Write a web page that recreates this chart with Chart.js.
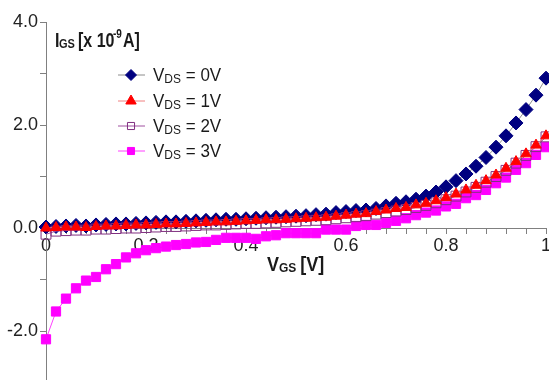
<!DOCTYPE html>
<html>
<head>
<meta charset="utf-8">
<script src="https://cdn.jsdelivr.net/npm/chart.js@4"></script>
<style>
  html, body { margin: 0; padding: 0; background: #fff; }
  #wrap { width: 549px; height: 380px; position: relative; }
</style>
</head>
<body>
<div id="wrap"><canvas id="chart"></canvas></div>
<script>
// V_GS [V]
const vgs = [0, 0.02, 0.04, 0.06, 0.08, 0.1, 0.12, 0.14, 0.16, 0.18, 0.2, 0.22, 0.24, 0.26, 0.28, 0.3, 0.32, 0.34, 0.36, 0.38, 0.4,
  0.42, 0.44, 0.46, 0.48, 0.5, 0.52, 0.54, 0.56, 0.58, 0.6, 0.62, 0.64, 0.66, 0.68, 0.7, 0.72, 0.74, 0.76, 0.78, 0.8,
  0.82, 0.84, 0.86, 0.88, 0.9, 0.92, 0.94, 0.96, 0.98, 1];

// I_GS [x 10^-9 A]
const igsVds0 = [0.02, 0.03, 0.04, 0.05, 0.04, 0.06, 0.07, 0.08, 0.08, 0.09, 0.10, 0.11, 0.12, 0.12, 0.13, 0.14, 0.15, 0.16, 0.17, 0.17, 0.18,
  0.19, 0.20, 0.21, 0.22, 0.23, 0.24, 0.26, 0.27, 0.30, 0.32, 0.34, 0.35, 0.38, 0.43, 0.48, 0.51, 0.56, 0.62, 0.70, 0.80,
  0.92, 1.05, 1.20, 1.37, 1.57, 1.79, 2.04, 2.30, 2.58, 2.91];
const igsVds1 = [0.00, 0.01, 0.02, 0.02, 0.01, 0.03, 0.04, 0.04, 0.05, 0.06, 0.06, 0.07, 0.08, 0.08, 0.09, 0.10, 0.11, 0.12, 0.12, 0.13, 0.14,
  0.15, 0.16, 0.16, 0.17, 0.18, 0.19, 0.20, 0.21, 0.23, 0.25, 0.27, 0.28, 0.32, 0.35, 0.38, 0.40, 0.45, 0.48, 0.53, 0.59,
  0.66, 0.74, 0.83, 0.92, 1.03, 1.16, 1.29, 1.44, 1.61, 1.79];
const igsVds2 = [-0.12, -0.06, -0.05, -0.04, -0.04, -0.02, -0.02, -0.01, 0.00, 0.00, 0.01, 0.02, 0.03, 0.03, 0.04, 0.05, 0.06, 0.06, 0.07, 0.08, 0.09,
  0.09, 0.10, 0.11, 0.12, 0.13, 0.14, 0.15, 0.16, 0.18, 0.20, 0.22, 0.24, 0.27, 0.30, 0.33, 0.36, 0.40, 0.44, 0.49, 0.55,
  0.62, 0.70, 0.79, 0.89, 1.00, 1.12, 1.26, 1.41, 1.58, 1.77];
const igsVds3 = [-2.16, -1.62, -1.37, -1.17, -1.02, -0.95, -0.80, -0.70, -0.57, -0.49, -0.43, -0.39, -0.36, -0.33, -0.31, -0.28, -0.27, -0.23, -0.19, -0.19, -0.19,
  -0.21, -0.16, -0.14, -0.10, -0.10, -0.10, -0.10, -0.03, -0.03, -0.03, 0.04, 0.06, 0.06, 0.10, 0.14, 0.19, 0.25, 0.30, 0.34, 0.42,
  0.47, 0.58, 0.64, 0.74, 0.87, 0.98, 1.13, 1.26, 1.42, 1.57];

const seriesLabels = ["0V", "1V", "2V", "3V"];
const yTickLabels = { "4": "4.0", "2": "2.0", "0": "0.0", "-2": "-2.0" };

const FONT = "'Liberation Sans', Arial, sans-serif";

function pts(arr) {
  return vgs.map((x, i) => ({ x: x, y: arr[i] }));
}

const datasets = [
  { label: seriesLabels[0], data: pts(igsVds0), borderColor: "#8c8c8c", backgroundColor: "#000080",
    pointBorderColor: "#000080", pointStyle: "rectRot", pointRadius: 7, order: 2 },
  { label: seriesLabels[1], data: pts(igsVds1), borderColor: "#f08080", backgroundColor: "#ff0000",
    pointBorderColor: "#ff0000", pointStyle: "triangle", pointRadius: 6, order: 0 },
  { label: seriesLabels[2], data: pts(igsVds2), borderColor: "#a050a0", backgroundColor: "rgba(0,0,0,0)",
    pointBorderColor: "#803080", pointStyle: "rect", pointRadius: 7, order: 1 },
  { label: seriesLabels[3], data: pts(igsVds3), borderColor: "#ff40ff", backgroundColor: "#ff00ff",
    pointBorderColor: "#ff00ff", pointStyle: "rect", pointRadius: 6.5, order: 3 }
];
datasets.forEach(d => {
  d.borderWidth = 1;
  d.pointBorderWidth = 1;
  d.pointBackgroundColor = d.backgroundColor;
  d.pointHoverRadius = d.pointRadius;
  d.fill = false;
  d.tension = 0;
  d.clip = false;
});

// text stretched a bit vertically, like the original export
function tallText(ctx, txt, x, y, sy) {
  ctx.save();
  ctx.translate(x, y);
  ctx.scale(1, sy);
  ctx.fillText(txt, 0, 0);
  ctx.restore();
}

// legend + axis titles drawn on the canvas (subscripts need it)
const overlay = {
  id: "overlay",
  afterDraw(chart) {
    const ctx = chart.ctx;
    ctx.save();
    ctx.textBaseline = "alphabetic";
    ctx.fillStyle = "#1a1a1a";

    // y title
    let y = 47;
    ctx.font = "bold 16px " + FONT;
    tallText(ctx, "I", 55, y, 1.3);
    ctx.font = "bold 11px " + FONT;
    tallText(ctx, "GS", 59, y + 1, 1.2);
    ctx.font = "bold 16px " + FONT;
    tallText(ctx, "[x 10", 78, y, 1.3);
    ctx.font = "bold 10px " + FONT;
    tallText(ctx, "-9", 113, y - 9, 1.2);
    ctx.font = "bold 16px " + FONT;
    tallText(ctx, "A]", 123, y, 1.3);

    // x title
    let x = 267; y = 271;
    ctx.font = "bold 18px " + FONT;
    tallText(ctx, "V", x, y, 1.15); x += ctx.measureText("V").width;
    ctx.font = "bold 12px " + FONT;
    tallText(ctx, "GS", x, y + 1, 1.1); x += ctx.measureText("GS").width + 4;
    ctx.font = "bold 18px " + FONT;
    tallText(ctx, "[V]", x, y, 1.15);

    // legend
    const rows = [75, 101, 126, 151];
    datasets.forEach((d, i) => {
      const ry = rows[i];
      ctx.strokeStyle = d.borderColor;
      ctx.lineWidth = 1;
      ctx.beginPath();
      ctx.moveTo(118, ry);
      ctx.lineTo(145, ry);
      ctx.stroke();
      ctx.fillStyle = d.pointBackgroundColor;
      ctx.strokeStyle = d.pointBorderColor;
      Chart.helpers.drawPoint(ctx, {
        pointStyle: d.pointStyle, rotation: 0,
        radius: d.pointStyle === "rect" ? 5 : (d.pointStyle === "triangle" ? 6 : 5.5),
        borderWidth: 1
      }, 131, ry);

      ctx.fillStyle = "#1a1a1a";
      let tx = 153;
      const base = ry + 6;
      ctx.font = "17px " + FONT;
      tallText(ctx, "V", tx, base, 1.1); tx += ctx.measureText("V").width;
      ctx.font = "12px " + FONT;
      tallText(ctx, "DS", tx, base + 2, 1.1); tx += ctx.measureText("DS").width;
      ctx.font = "17px " + FONT;
      tallText(ctx, " = " + d.label, tx, base, 1.1);
    });
    ctx.restore();
  }
};

new Chart(document.getElementById("chart"), {
  type: "line",
  data: { datasets: datasets },
  options: {
    responsive: true,
    maintainAspectRatio: false,
    animation: false,
    events: [],
    layout: { autoPadding: false, padding: { top: 22, right: 3, bottom: 0, left: 0 } },
    plugins: { legend: { display: false }, tooltip: { enabled: false } },
    scales: {
      x: {
        type: "linear",
        position: { y: 0 },
        min: 0,
        max: 1,
        border: { color: "#808080", width: 1 },
        grid: { drawOnChartArea: false, drawTicks: true, tickLength: 5, tickColor: "#808080" },
        ticks: {
          stepSize: 0.04,
          autoSkip: false,
          maxRotation: 0,
          padding: 2,
          color: "#222",
          font: { family: FONT, size: 18 },
          callback: v => {
            const r = v / 0.2;
            if (Math.abs(r - Math.round(r)) > 1e-6) return "";
            return String(Math.round(r) * 2 / 10);
          }
        },
        afterFit: s => { s.paddingLeft = 0; s.paddingRight = 0; s.paddingTop = 0; s.paddingBottom = 0; }
      },
      y: {
        type: "linear",
        position: "left",
        min: -2.95,
        max: 4,
        border: { color: "#808080", width: 1 },
        grid: { drawOnChartArea: false, drawTicks: true, tickLength: 6, tickColor: "#808080" },
        ticks: {
          stepSize: 1,
          includeBounds: false,
          padding: 2,
          color: "#222",
          font: { family: FONT, size: 18 },
          callback: v => yTickLabels[String(v)] || ""
        },
        afterFit: s => { s.width = 46; s.paddingTop = 0; s.paddingBottom = 0; }
      }
    }
  },
  plugins: [overlay]
});
</script>
</body>
</html>
